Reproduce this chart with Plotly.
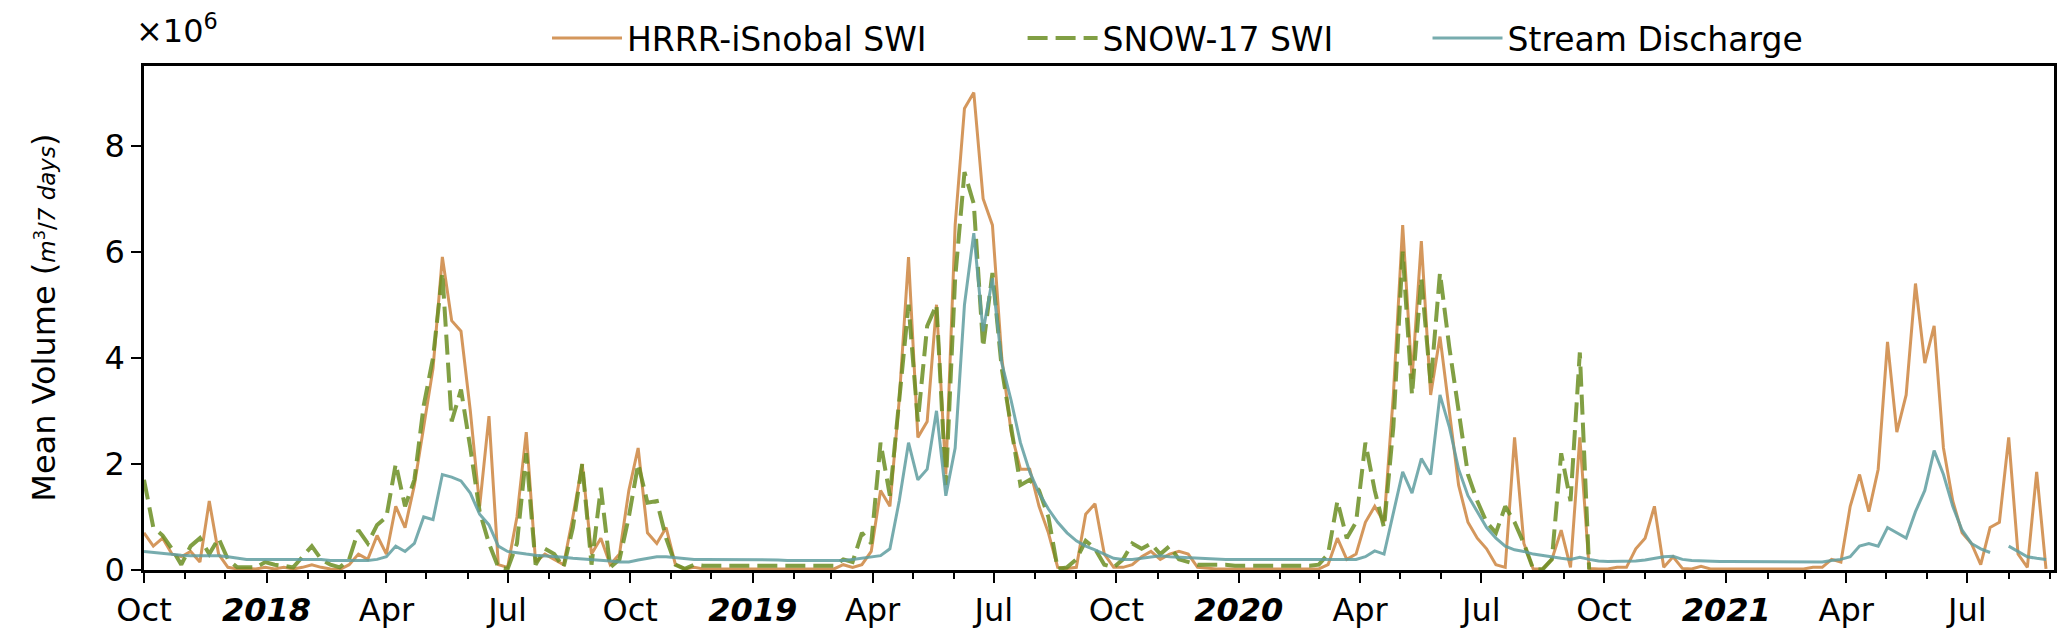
"""Weekly SWI and stream discharge volumes, Oct 2017 - Sep 2021"""

import pandas as pd
import plotly.graph_objects as go

# weekly samples starting 2017-10-01, values in millions of m^3 / 7 days
dates = pd.date_range("2017-10-01", periods=205, freq="7D")

hrrr_swi = [
    0.7, 0.45, 0.6, 0.3, 0.25, 0.35, 0.15, 1.3, 0.3, 0.05,
    0.02, 0.03, 0.02, 0.05, 0.02, 0.05, 0.02, 0.05, 0.1, 0.05,
    0.02, 0.01, 0.1, 0.3, 0.2, 0.65, 0.3, 1.2, 0.8, 1.6,
    2.7, 3.8, 5.9, 4.7, 4.5, 3.0, 1.2, 2.9, 0.1, 0.05,
    1.0, 2.6, 0.15, 0.3, 0.2, 0.1, 1.0, 2.0, 0.3, 0.6,
    0.1, 0.3, 1.5, 2.3, 0.7, 0.5, 0.8, 0.1, 0.02, 0.05,
    0.02, 0.02, 0.02, 0.02, 0.02, 0.02, 0.02, 0.02, 0.02, 0.02,
    0.02, 0.02, 0.02, 0.02, 0.02, 0.1, 0.05, 0.1, 0.35, 1.5,
    1.2, 3.2, 5.9, 2.5, 2.8, 5.0, 1.8, 6.5, 8.7, 9.0,
    7.0, 6.5, 4.0, 2.6, 1.9, 1.9, 1.2, 0.7, 0.05, 0.03,
    0.05, 1.05, 1.25, 0.3, 0.05, 0.05, 0.1, 0.25, 0.35, 0.2,
    0.3, 0.35, 0.3, 0.05, 0.03, 0.02, 0.02, 0.02, 0.02, 0.02,
    0.02, 0.02, 0.02, 0.02, 0.02, 0.02, 0.02, 0.1, 0.6, 0.2,
    0.3, 0.9, 1.2, 0.9, 3.3, 6.5, 3.6, 6.2, 3.3, 4.4,
    3.0, 1.6, 0.9, 0.6, 0.4, 0.1, 0.05, 2.5, 0.5, 0.02,
    0.02, 0.2, 0.75, 0.05, 2.5, 0.03, 0.02, 0.02, 0.05, 0.05,
    0.4, 0.6, 1.2, 0.05, 0.25, 0.03, 0.02, 0.07, 0.02, 0.02,
    0.02, 0.02, 0.02, 0.02, 0.02, 0.02, 0.02, 0.03, 0.02, 0.05,
    0.05, 0.2, 0.15, 1.2, 1.8, 1.1, 1.9, 4.3, 2.6, 3.3,
    5.4, 3.9, 4.6, 2.3, 1.3, 0.7, 0.5, 0.1, 0.8, 0.9,
    2.5, 0.3, 0.05, 1.85, 0.02,
]

snow17_swi = [
    1.7, 0.8, 0.65, 0.4, 0.1, 0.45, 0.6, 0.3, 0.6, 0.2,
    0.05, 0.05, 0.05, 0.15, 0.1, 0.08, 0.05, 0.25, 0.45, 0.2,
    0.1, 0.05, 0.2, 0.75, 0.5, 0.85, 1.0, 2.0, 1.2, 1.7,
    3.1, 4.0, 5.6, 2.8, 3.4, 2.3, 1.1, 0.5, 0.05, 0.02,
    0.5, 2.2, 0.1, 0.4, 0.3, 0.05, 0.8, 2.0, 0.1, 1.55,
    0.05, 0.2, 1.0, 2.0, 1.27, 1.3, 0.6, 0.1, 0.02, 0.1,
    0.08, 0.08, 0.08, 0.08, 0.08, 0.08, 0.08, 0.08, 0.08, 0.08,
    0.08, 0.08, 0.08, 0.08, 0.08, 0.2, 0.15, 0.7, 0.5, 2.4,
    1.4, 3.2, 5.0, 2.8, 4.6, 5.0, 1.6, 5.5, 7.5, 6.9,
    4.2, 5.6, 3.8, 2.7, 1.6, 1.7, 1.5, 1.0, 0.02, 0.05,
    0.2, 0.55, 0.4, 0.1, 0.05, 0.2, 0.5, 0.4, 0.5, 0.3,
    0.45, 0.2, 0.15, 0.1, 0.1, 0.1, 0.1, 0.08, 0.08, 0.08,
    0.08, 0.08, 0.08, 0.08, 0.08, 0.08, 0.1, 0.3, 1.3, 0.6,
    0.9, 2.4, 1.5, 0.8, 2.7, 6.0, 3.3, 5.5, 3.5, 5.6,
    4.2, 3.0, 1.8, 1.3, 0.9, 0.7, 1.2, 0.9, 0.5, 0.02,
    0.01, 0.2, 2.2, 1.3, 4.1, 0.01,
] + [None] * 49

discharge = [
    0.35, 0.33, 0.32, 0.3, 0.28, 0.27, 0.27, 0.27, 0.27, 0.25,
    0.22, 0.2, 0.2, 0.2, 0.2, 0.2, 0.2, 0.2, 0.2, 0.2,
    0.18, 0.18, 0.18, 0.18, 0.18, 0.2, 0.25, 0.45, 0.35, 0.5,
    1.0, 0.95, 1.8, 1.75, 1.68, 1.45, 1.05, 0.85, 0.45, 0.35,
    0.32, 0.3, 0.28, 0.27, 0.26, 0.24, 0.22, 0.21, 0.2, 0.19,
    0.17, 0.15, 0.15, 0.19, 0.22, 0.25, 0.25, 0.23, 0.22, 0.2,
    0.2, 0.2, 0.2, 0.2, 0.19, 0.19, 0.19, 0.19, 0.19, 0.18,
    0.18, 0.18, 0.18, 0.18, 0.18, 0.18, 0.2, 0.22, 0.25, 0.27,
    0.4, 1.3, 2.4, 1.7, 1.9, 3.0, 1.4, 2.3, 5.0, 6.35,
    4.5, 5.5, 3.9, 3.2, 2.4, 1.85, 1.45, 1.15, 0.9, 0.7,
    0.55, 0.45, 0.38, 0.3, 0.22, 0.2, 0.2, 0.22, 0.24, 0.27,
    0.25, 0.24, 0.24, 0.22, 0.22, 0.2, 0.2, 0.2, 0.2, 0.2,
    0.2, 0.2, 0.19, 0.19, 0.19, 0.19, 0.19, 0.2, 0.2, 0.2,
    0.2, 0.25, 0.36, 0.3, 1.1, 1.85, 1.45, 2.1, 1.8, 3.3,
    2.7, 1.9, 1.4, 1.1, 0.8, 0.6, 0.45, 0.38, 0.35, 0.3,
    0.27, 0.24, 0.22, 0.2, 0.24, 0.2, 0.17, 0.16, 0.16, 0.17,
    0.17, 0.19, 0.22, 0.25, 0.26, 0.2, 0.18, 0.17, 0.17, 0.16,
    0.16, 0.16, 0.16, 0.16, 0.15, 0.15, 0.15, 0.15, 0.15, 0.15,
    0.15, 0.18, 0.2, 0.25, 0.45, 0.5, 0.45, 0.8, 0.7, 0.6,
    1.1, 1.5, 2.25, 1.8, 1.2, 0.75, 0.5, 0.4, 0.33, None,
    0.45, 0.35, 0.25, 0.22, 0.2,
]

tick_dates = [
    "2017-10-01", "2018-01-01", "2018-04-01", "2018-07-01",
    "2018-10-01", "2019-01-01", "2019-04-01", "2019-07-01",
    "2019-10-01", "2020-01-01", "2020-04-01", "2020-07-01",
    "2020-10-01", "2021-01-01", "2021-04-01", "2021-07-01",
]
tick_labels = [
    "Oct", "<b><i>2018</i></b>", "Apr", "Jul",
    "Oct", "<b><i>2019</i></b>", "Apr", "Jul",
    "Oct", "<b><i>2020</i></b>", "Apr", "Jul",
    "Oct", "<b><i>2021</i></b>", "Apr", "Jul",
]

FONT = "DejaVu Sans"
PLOT_H = 635 - 58 - 73  # plot area height in px, used to place the legends


def legend_box(x):
    # one legend per series so each entry sits where the reference has it
    return dict(
        orientation="h",
        x=x,
        xanchor="left",
        y=1 + 28 / PLOT_H,
        yanchor="middle",
        font=dict(size=33),
        itemwidth=70,
        bgcolor="rgba(0,0,0,0)",
    )


fig = go.Figure()

fig.add_trace(
    go.Scatter(
        x=dates,
        y=hrrr_swi,
        mode="lines",
        name="HRRR-iSnobal SWI",
        legend="legend",
        line=dict(color="rgba(205,133,63,0.85)", width=3),
    )
)
fig.add_trace(
    go.Scatter(
        x=dates,
        y=snow17_swi,
        mode="lines",
        name="SNOW-17 SWI",
        legend="legend2",
        line=dict(color="rgba(107,142,35,0.85)", width=4, dash="20px,8px"),
    )
)
fig.add_trace(
    go.Scatter(
        x=dates,
        y=discharge,
        mode="lines",
        name="Stream Discharge",
        legend="legend3",
        line=dict(color="rgba(95,158,160,0.85)", width=3),
    )
)

fig.update_layout(
    width=2067,
    height=635,
    # fixed margins: the legends above the axes must not push the plot down
    margin=dict(l=136, r=21, t=58, b=73, autoexpand=False),
    plot_bgcolor="white",
    paper_bgcolor="white",
    font=dict(family=FONT, size=32, color="black"),
    showlegend=True,
    legend=legend_box(0.211),
    legend2=legend_box(0.460),
    legend3=legend_box(0.672),
    xaxis=dict(
        range=["2017-10-01", "2021-09-04"],
        tickmode="array",
        tickvals=tick_dates,
        ticktext=tick_labels,
        ticks="outside",
        ticklen=10,
        tickwidth=2,
        tickcolor="black",
        showgrid=False,
        zeroline=False,
        showline=True,
        linecolor="black",
        linewidth=2.5,
        mirror=True,
        minor=dict(
            tick0="2017-10-01",
            dtick="M1",
            ticks="outside",
            ticklen=6,
            tickwidth=1.5,
            tickcolor="black",
            showgrid=False,
        ),
    ),
    yaxis=dict(
        range=[0, 9.5],
        tickvals=[0, 2, 4, 6, 8],
        ticks="outside",
        ticklen=10,
        tickwidth=2,
        tickcolor="black",
        showgrid=False,
        zeroline=False,
        showline=True,
        linecolor="black",
        linewidth=2.5,
        mirror=True,
    ),
)

# scale factor above the y axis, as matplotlib draws it
fig.add_annotation(
    x=0,
    y=1,
    xref="paper",
    yref="paper",
    xanchor="left",
    yanchor="bottom",
    xshift=-10,
    yshift=14,
    text="×10<sup>6</sup>",
    showarrow=False,
    font=dict(size=32),
)

fig.add_annotation(
    x=-0.0525,
    y=0.5,
    xref="paper",
    yref="paper",
    xanchor="center",
    yanchor="middle",
    textangle=-90,
    text="Mean Volume (<span style='font-size:23px'><i>m</i><sup>3</sup>/<i>7 days</i></span>)",
    showarrow=False,
    font=dict(size=32),
)

fig.write_html("out.html")
